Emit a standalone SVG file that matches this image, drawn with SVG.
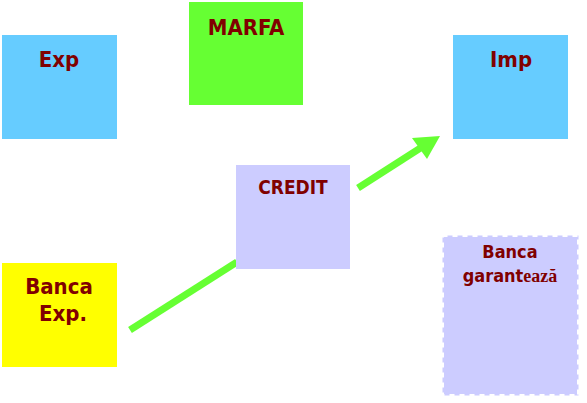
<svg xmlns="http://www.w3.org/2000/svg" width="587" height="403" viewBox="0 0 587 403">
<style>
.t{font-family:"DejaVu Sans Condensed","DejaVu Sans",Verdana,sans-serif;font-weight:bold;fill:#800000;text-anchor:middle}
.serif{font-family:"Liberation Serif","Times New Roman",serif;font-weight:bold}
.ln{stroke:#66FF33;stroke-width:7;fill:none}
</style>
<rect width="587" height="403" fill="#fff"/>
<g id="connectors">
<line class="ln" x1="130" y1="330" x2="237" y2="262"/>
<line class="ln" x1="358" y1="188" x2="422" y2="147"/>
<polygon points="440,136 412,138 427,159" fill="#66FF33"/>
</g>
<g id="exp">
<rect x="2" y="35" width="115" height="104" fill="#66CCFF"/>
<text class="t" x="59" y="67" font-size="22">Exp</text>
</g>
<g id="marfa">
<rect x="189" y="2" width="114" height="103" fill="#66FF33"/>
<text class="t" x="246" y="35" font-size="22">MARFA</text>
</g>
<g id="imp">
<rect x="453" y="35" width="115" height="104" fill="#66CCFF"/>
<text class="t" x="511" y="67" font-size="22">Imp</text>
</g>
<g id="credit">
<rect x="236" y="165" width="114" height="104" fill="#CCCCFF"/>
<text class="t" x="293" y="194" font-size="19">CREDIT</text>
</g>
<g id="banca-exp">
<rect x="2" y="263" width="115" height="104" fill="#FFFF00"/>
<text class="t" x="59" y="294" font-size="22">Banca</text>
<text class="t" x="63" y="321" font-size="22">Exp.</text>
</g>
<g id="banca-garanteaza">
<rect x="442.5" y="235.5" width="136" height="160" fill="#CCCCFF" stroke="#fff" stroke-width="3" stroke-dasharray="5 5"/>
<text class="t" x="510" y="258" font-size="18">Banca</text>
<text class="t" x="510" y="282" font-size="18">garant<tspan class="serif" font-size="18">ează</tspan></text>
</g>
</svg>
